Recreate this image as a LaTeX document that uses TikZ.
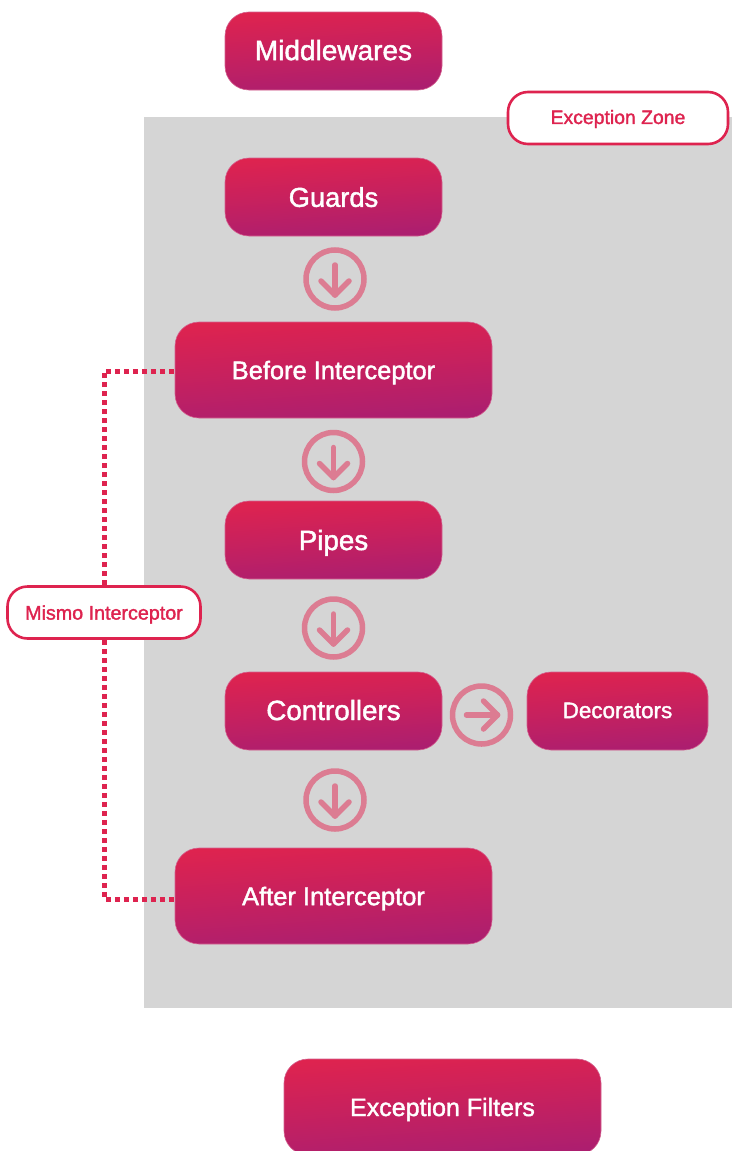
\documentclass[tikz,border=0pt]{standalone}
\usepackage{fontspec}
\setmainfont{Liberation Sans}
\newfontfamily\medfont[FakeBold=1.6]{Liberation Sans}
\definecolor{rosered}{HTML}{DE234F}
\definecolor{plumred}{HTML}{AB1E70}
\definecolor{zonegray}{HTML}{D5D5D5}
\definecolor{ringpink}{HTML}{DC7C92}
\tikzset{
  x=1pt,y=-1pt,
  fs/.style={font=\medfont\fontsize{#1pt}{#1pt}\selectfont,text height=0.72*#1pt,text depth=0pt},
  liftone/.style={text depth=2pt},
  gradbox/.style={rectangle,rounded corners=24pt,inner sep=0pt,
    top color=rosered,bottom color=plumred,middle color=rosered!52!plumred,shading angle=4,
    draw=rosered!45!plumred!70!white,line width=.6pt,text=white},
  wideSize/.style={minimum width=317pt,minimum height=96pt},
  midSize/.style={minimum width=217pt,minimum height=78pt},
  tagbox/.style={rectangle,rounded corners=20pt,inner sep=0pt,fill=white,draw=rosered,line width=2.6pt,text=rosered},
  ringnode/.style={circle,draw=ringpink,line width=5.5pt,minimum size=58pt,inner sep=0pt},
  arrowmark/.style={draw=ringpink,line width=5.5pt,line cap=round,line join=round},
  dotline/.style={draw=rosered,line width=5pt,dash pattern=on 5pt off 4pt},
}
\begin{document}
\begin{tikzpicture}
\useasboundingbox (0,0) rectangle (732,1151);
\fill[white] (0,0) rectangle (732,1151);
\fill[zonegray] (144,117) rectangle (732,1008);

\node[gradbox,midSize,fs=28,liftone] (mw) at (333.5,51) {Middlewares};
\node[gradbox,midSize,fs=27.3] (gu) at (333.5,197) {Guards};
\node[gradbox,wideSize,fs=25.4] (bi) at (333.5,370) {Before Interceptor};
\node[gradbox,midSize,fs=27.8] (pi) at (333.5,540) {Pipes};
\node[gradbox,midSize,fs=27.8,liftone] (co) at (333.5,711) {Controllers};
\node[gradbox,minimum width=181pt,minimum height=78pt,fs=22.4,liftone] (de) at (617.5,711) {Decorators};
\node[gradbox,wideSize,fs=25.5] (ai) at (333.5,896) {After Interceptor};
\node[gradbox,wideSize,fs=25] (ef) at (442.5,1107) {Exception Filters};

\node[tagbox,minimum width=220pt,minimum height=52pt,fs=19.4,liftone] (ez) at (618,118) {Exception Zone};
\node[tagbox,minimum width=193pt,minimum height=52pt,fs=19.7] (mi) at (104,612.5) {Mismo Interceptor};

\draw[dotline] (mi.north) |- ([yshift=-1pt]bi.west);
\draw[dotline] (mi.south) |- ([yshift=-3pt]ai.west);

\node[ringnode] (r1) at (335,279) {};
\node[ringnode] (r2) at (333.5,461.5) {};
\node[ringnode] (r3) at (333.5,628) {};
\node[ringnode] (r4) at (481.5,715) {};
\node[ringnode] (r5) at (335,800) {};

\foreach \r in {r1,r2,r3,r5}{
  \draw[arrowmark] ([yshift=14pt]\r.center) -- ([yshift=-16pt]\r.center);
  \draw[arrowmark] ([xshift=-14pt,yshift=-2pt]\r.center) -- ([yshift=-16pt]\r.center) -- ([xshift=14pt,yshift=-2pt]\r.center);
}
\draw[arrowmark] ([xshift=-15pt]r4.center) -- ([xshift=16pt]r4.center);
\draw[arrowmark] ([xshift=2pt,yshift=-14pt]r4.center) -- ([xshift=16pt]r4.center) -- ([xshift=2pt,yshift=14pt]r4.center);
\end{tikzpicture}
\end{document}
